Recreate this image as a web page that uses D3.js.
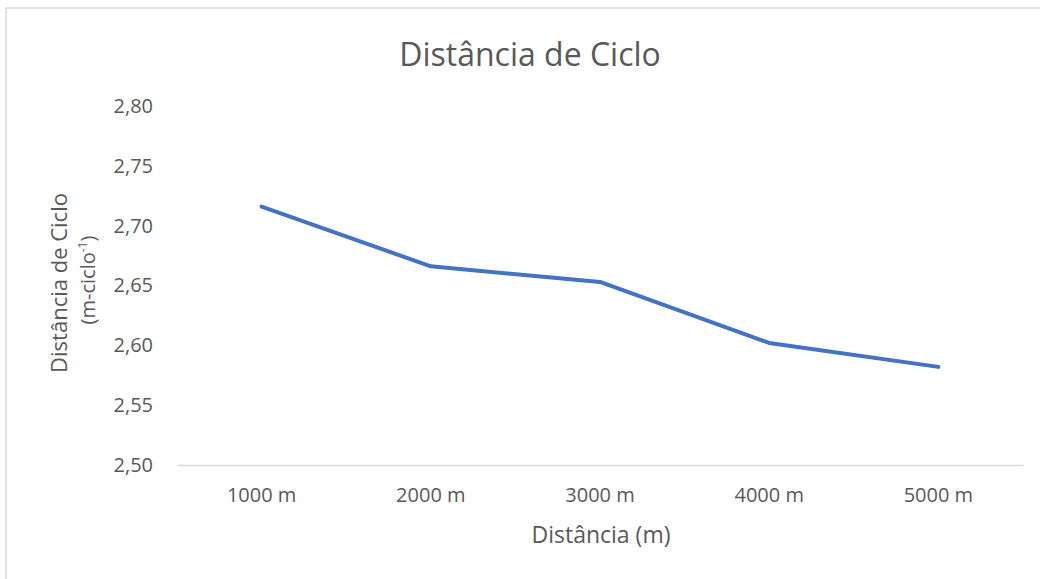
<!DOCTYPE html>
<html><head><meta charset="utf-8">
<script src="https://cdn.jsdelivr.net/npm/d3@7"></script>
<style>body{margin:0;background:#fff;}svg{display:block;font-family:"Open Sans",Calibri,sans-serif;}</style>
</head><body><svg id="c" width="1040" height="579"></svg>
<script>
const categories = ["1000 m","2000 m","3000 m","4000 m","5000 m"];
const values = [2.716, 2.666, 2.653, 2.602, 2.582];
const yTicks = [2.50,2.55,2.60,2.65,2.70,2.75,2.80];
const title = "Distância de Ciclo";
const xTitle = "Distância (m)";

const svg = d3.select("#c");
svg.append("rect").attr("x",6).attr("y",8).attr("width",1100).attr("height",700)
  .attr("fill","#fff").attr("stroke","#d9d9d9").attr("stroke-width",1.5);

const x = d3.scaleBand().domain(categories).range([177,1023]);
const y = d3.scaleLinear().domain([2.50,2.80]).range([465,106]);
const fmt = d => d.toFixed(2).replace(".",",");

const xa = svg.append("g").attr("transform","translate(0,465)")
  .call(d3.axisBottom(x).tickSize(0).tickPadding(23));
xa.select(".domain").attr("stroke","#d9d9d9").attr("stroke-width",1.5);
xa.selectAll("text").attr("fill","#595959").style("font-size","20px").style("font-family","'Open Sans',sans-serif");

const ya = svg.append("g").attr("transform","translate(160,0)")
  .call(d3.axisLeft(y).tickValues(yTicks).tickFormat(fmt).tickSize(0).tickPadding(7));
ya.select(".domain").remove();
ya.selectAll("text").attr("fill","#595959").style("font-size","20px").style("font-family","'Open Sans',sans-serif");

const line = d3.line().x((d,i)=>x(categories[i])+x.bandwidth()/2).y(d=>y(d));
svg.append("path").datum(values).attr("d",line).attr("fill","none")
  .attr("stroke","#4472C4").attr("stroke-width",4).attr("stroke-linejoin","round").attr("stroke-linecap","round");

svg.append("text").attr("x",530).attr("y",66).attr("text-anchor","middle")
  .attr("fill","#595959").style("font-size","32px").text(title);
svg.append("text").attr("x",601).attr("y",543).attr("text-anchor","middle")
  .attr("fill","#595959").style("font-size","23px").text(xTitle);
const yt = svg.append("text").attr("transform","translate(0,283) rotate(-90)")
  .attr("text-anchor","middle").attr("fill","#595959").style("font-size","22px");
yt.append("tspan").attr("x",0).attr("y",67).text("Distância de Ciclo");
const t2 = yt.append("tspan").attr("x",3).attr("y",95).style("font-size","20px");
t2.append("tspan").text("(m-ciclo");
t2.append("tspan").attr("dy",-8).style("font-size","12px").text("-1");
t2.append("tspan").attr("dy",8).text(")");
</script></body></html>
